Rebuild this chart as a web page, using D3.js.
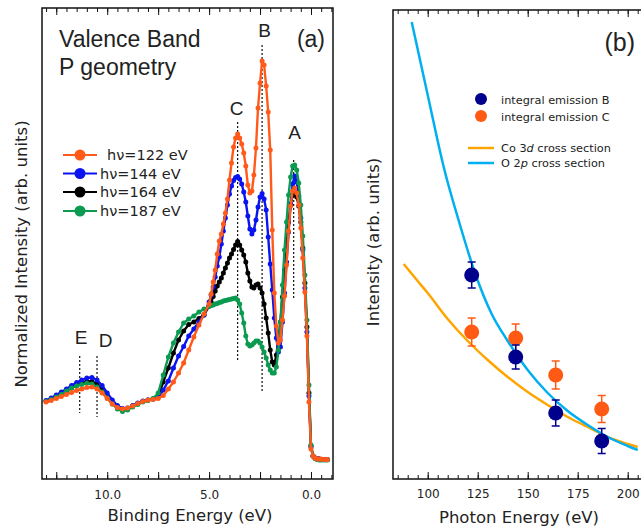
<!DOCTYPE html>
<html>
<head>
<meta charset="utf-8">
<script src="https://cdn.jsdelivr.net/npm/d3@7"></script>
<style>
  html, body { margin: 0; padding: 0; background: #fff; }
  svg { display: block; }
  text { font-family: "DejaVu Sans", sans-serif; fill: #222; }
  .big { font-family: "Liberation Sans", Arial, sans-serif; }
</style>
</head>
<body>
<svg id="chart" width="641" height="531"></svg>
<script>
// ---------------- DATA ----------------
// Panel (a): valence band spectra (binding energy in eV, intensity in arb. units)
const bindingEnergy = [13.0,12.75,12.5,12.25,12.0,11.75,11.5,11.25,11.0,10.75,10.5,10.25,10.0,9.75,9.5,9.25,9.0,8.75,8.5,8.25,8.0,7.75,7.5,7.25,7.0,6.75,6.5,6.25,6.0,5.75,5.5,5.25,5.0,
  4.9,4.8,4.7,4.6,4.5,4.4,4.3,4.2,4.1,4.0,3.9,3.8,3.7,3.6,3.5,3.4,3.3,3.2,3.1,3.0,2.9,2.8,2.7,2.6,2.5,2.4,2.3,2.2,2.1,2.0,1.9,1.8,1.7,1.6,1.5,1.4,1.3,1.2,1.1,1.0,0.9,0.8,0.7,0.6,0.5,0.4,0.3,0.2,0.1,0.0,-0.1,-0.2,-0.3,-0.4,-0.5,-0.6,-0.7,-0.8];

const hv122 = [77,78.5,80.5,82.5,84.5,86.5,88.5,90,91.5,92,90,86,80.5,75,71.5,70,71,73,75.5,77.5,79,79.5,80.5,83.5,90,97,106,116,129,142,154,165,175,
  185,197,209,225,238,245,255,266,280,299,316,332,341,345,341,335,326,313,294,286,288,304,331,371,396,418,414,393,367,329,249,186,153,136,139,159,183,214,248,273,288,291,286,274,251,221,187,143,77,30,23,21,20,20,20,19.5,19.5,19.5];

const hv144 = [78.5,81,84,87,90,93.5,96.5,99,101,101.5,99,93.5,86,79,73.5,70.5,71,73.5,76,78,79,80,81.5,89,98,111,123,132.5,143,150,157,164,177,
  184,192,202,213,222,235,248,261,274,285,293,298.5,301.5,302.5,300,295,287,277,263,250,245,249,259,272,282,285.5,280,269,242,215,189,161,141,127,132,157,186,217,247,275,295,303,297,283,261,229,191,147,83,32,23,21,20,20,19.5,19.5,19.5,19.5];

const hv164 = [78,80,82.5,85,88,91,93.5,96,97.5,97.5,95,90,83,76.5,71.5,69,70,73,75.5,77.5,79,80,83,97,111,126,139,148,154.5,157,160.5,164,173,
  177,182.5,188,193,197,201,206,211,216,221,225,229.5,234,237.5,234,229,224,217,206,198,192,191,194,195,191,186,175,161,146,129,117,114,124,138,157,182,209,234,257,274,284,287,282,273,257,231,196,152,86,33,23,21,20,20,19.5,19.5,19.5,19.5];

const hv187 = [77.5,79.5,82,84.5,88,91,93,94.5,95.7,95,92,87,81,75,70,67.5,69,72,74.5,77,78.5,80.5,86,104,122,136,147,156,160,163,167,170,172.5,
  173.5,174,175,175.5,176.5,177,178,178.5,179,179.5,180,180.5,181,179,175,166,156,143,135,133,134,136,138,138,136,132,127,121,114,109,106,106,112,129,157,194,229,257,284,302,313,314,309,296,274,243,204,159,94,34,23,20.5,19.5,19,19,19,19,19];

const seriesLabels = ["hν=122 eV", "hν=144 eV", "hν=164 eV", "hν=187 eV"];

// Peak markers (binding energy, dotted line extent in intensity units)
const peakLabels = ["A", "B", "C", "D", "E"];
const peakEnergy = [0.85, 2.4, 3.6, 10.5, 11.35];
const peakLineTop = [319, 434, 357, 123, 123];
const peakLineBottom = [181, 86, 119, 62, 66];

// Panel (b): integral emission vs photon energy
const photonEnergy = [122, 144, 164, 187];
const emissionB = [204, 122, 66, 38];
const emissionBErr = [13, 12, 13, 12.5];
const emissionC = [147, 141, 104, 70];
const emissionCErr = [14, 14, 14, 13.5];

// Cross sections (photon energy eV, arb. units)
const o2pEnergy = [92, 100, 108, 116, 124, 132, 140, 150, 160, 170, 180, 190, 200, 205];
const o2pSigma = [457, 384, 312, 255, 204, 165, 138, 109, 86, 68, 54, 42, 33, 29];
const co3dEnergy = [88, 95, 100, 110, 120, 130, 140, 150, 160, 170, 180, 190, 200, 205];
const co3dSigma = [215, 198, 186, 160, 138, 119, 102, 87, 74, 62, 52, 42, 35, 32];

// ---------------- DRAW ----------------
const svg = d3.select("#chart");
const cOrange = "#ff5a1a", cBlue = "#0a14f0", cBlack = "#000000", cGreen = "#0a9a50";
const seriesColors = [cOrange, cBlue, cBlack, cGreen];
const seriesData = [hv122, hv144, hv164, hv187];

// ---- Panel (a) ----
const A = {left: 42, right: 333, top: 8, bottom: 479};
const xa = d3.scaleLinear().domain([13.2, -1.08]).range([A.left, A.right]);
const ya = d3.scaleLinear().domain([0, 471]).range([A.bottom, A.top]);

const ga = svg.append("g");

function tickAxes(g, scale, yBottom, yTop, minorVals, majorVals, labelVals, fmt, pad) {
  const mk = (axisFn, y, vals, size) => g.append("g")
      .attr("transform", `translate(0,${y})`)
      .call(axisFn(scale).tickValues(vals).tickSizeInner(size).tickSizeOuter(0).tickFormat(""))
      .call(s => s.select(".domain").remove())
      .call(s => s.selectAll("line").attr("stroke", "#111").attr("stroke-width", 1));
  mk(d3.axisBottom, yBottom, minorVals, -4);
  mk(d3.axisBottom, yBottom, majorVals, -7);
  mk(d3.axisTop, yTop, minorVals, -4);
  mk(d3.axisTop, yTop, majorVals, -7);
  g.append("g")
    .attr("transform", `translate(0,${yBottom})`)
    .call(d3.axisBottom(scale).tickValues(labelVals).tickSize(0).tickPadding(pad).tickFormat(fmt))
    .call(s => s.select(".domain").remove())
    .call(s => s.selectAll("text").style("font-size", "12px").style("font-family", "DejaVu Sans").attr("fill", "#333"));
}

tickAxes(ga, xa, A.bottom, A.top,
  d3.range(26, -3, -1).map(d => d / 2),
  [12.5, 10, 7.5, 5, 2.5, 0],
  [10, 5, 0], d3.format(".1f"), 11.5);

// peak dotted lines
peakLabels.forEach((lab, i) => {
  ga.append("line")
    .attr("x1", xa(peakEnergy[i])).attr("x2", xa(peakEnergy[i]))
    .attr("y1", ya(peakLineTop[i])).attr("y2", ya(peakLineBottom[i]))
    .attr("stroke", "#111").attr("stroke-width", 1.2).attr("stroke-dasharray", "2,2");
});

// spectra: draw order black, blue, green, orange
const lineA = d3.line().x((d, i) => xa(bindingEnergy[i])).y(d => ya(d));
[2, 1, 3, 0].forEach(k => {
  const g = ga.append("g");
  g.append("path").datum(seriesData[k])
    .attr("d", lineA).attr("fill", "none")
    .attr("stroke", seriesColors[k]).attr("stroke-width", 2.4).attr("stroke-linejoin", "round");
  g.selectAll("circle").data(seriesData[k]).join("circle")
    .attr("cx", (d, i) => xa(bindingEnergy[i])).attr("cy", d => ya(d))
    .attr("r", 2.5).attr("fill", seriesColors[k]);
});

// frame
ga.append("rect").attr("x", A.left).attr("y", A.top)
  .attr("width", A.right - A.left).attr("height", A.bottom - A.top)
  .attr("fill", "none").attr("stroke", "#111").attr("stroke-width", 1.5);

// peak labels
const peakLabelPos = {A: [294.5, 139], B: [264.5, 37], C: [236.7, 115], D: [105.5, 347], E: [81, 344]};
peakLabels.forEach(lab => {
  ga.append("text").attr("class", "big").attr("x", peakLabelPos[lab][0]).attr("y", peakLabelPos[lab][1])
    .attr("text-anchor", "middle").style("font-size", "19px").text(lab);
});

// titles
ga.append("text").attr("class", "big").attr("x", 59).attr("y", 47).style("font-size", "23px").text("Valence Band");
ga.append("text").attr("class", "big").attr("x", 59).attr("y", 75).style("font-size", "23px").text("P geometry");
ga.append("text").attr("class", "big").attr("x", 325).attr("y", 47).attr("text-anchor", "end").style("font-size", "23px").text("(a)");

// legend (a)
const legY = [155, 173.5, 192, 211];
const legX = [107, 100, 100, 100];
seriesLabels.forEach((lab, i) => {
  ga.append("line").attr("x1", 63).attr("x2", 97).attr("y1", legY[i]).attr("y2", legY[i])
    .attr("stroke", seriesColors[i]).attr("stroke-width", 2);
  ga.append("circle").attr("cx", 80).attr("cy", legY[i]).attr("r", 5.5).attr("fill", seriesColors[i]);
  ga.append("text").attr("x", legX[i]).attr("y", legY[i] + 5).style("font-size", "14.5px").text(lab);
});

// axis titles (a)
ga.append("text").attr("x", 190).attr("y", 521).attr("text-anchor", "middle")
  .style("font-size", "16.5px").text("Binding Energy (eV)");
ga.append("text").attr("transform", "translate(27,254) rotate(-90)").attr("text-anchor", "middle")
  .style("font-size", "16.5px").text("Normalized Intensity (arb. units)");

// ---- Panel (b) ----
const B = {left: 393, right: 645, top: 10, bottom: 479};
const xb = d3.scaleLinear().domain([82.65, 206.65]).range([B.left, 641]);
const yb = d3.scaleLinear().domain([0, 469]).range([B.bottom, B.top]);
const gb = svg.append("g");

tickAxes(gb, xb, B.bottom, B.top,
  d3.range(85, 210, 5),
  [100, 125, 150, 175, 200],
  [100, 125, 150, 175, 200], d3.format("d"), 10);

const cCo = "#ffa500", cO = "#00aff0", cNavy = "#00008c", cPtC = "#ff5a14";
const lineB = (E) => d3.line().curve(d3.curveMonotoneX).x((d, i) => xb(E[i])).y(d => yb(d));
gb.append("path").datum(co3dSigma).attr("d", lineB(co3dEnergy))
  .attr("fill", "none").attr("stroke", cCo).attr("stroke-width", 2.5);
gb.append("path").datum(o2pSigma).attr("d", lineB(o2pEnergy))
  .attr("fill", "none").attr("stroke", cO).attr("stroke-width", 2.5);

function points(vals, errs, color) {
  const g = gb.append("g");
  vals.forEach((v, i) => {
    const x = xb(photonEnergy[i]);
    g.append("line").attr("x1", x).attr("x2", x).attr("y1", yb(v - errs[i])).attr("y2", yb(v + errs[i]))
      .attr("stroke", color).attr("stroke-width", 1.5);
    [v - errs[i], v + errs[i]].forEach(e => {
      g.append("line").attr("x1", x - 4).attr("x2", x + 4).attr("y1", yb(e)).attr("y2", yb(e))
        .attr("stroke", color).attr("stroke-width", 1.5);
    });
    g.append("circle").attr("cx", x).attr("cy", yb(v)).attr("r", 7.5).attr("fill", color);
  });
}
points(emissionC, emissionCErr, cPtC);
points(emissionB, emissionBErr, cNavy);

gb.append("rect").attr("x", B.left).attr("y", B.top)
  .attr("width", B.right - B.left).attr("height", B.bottom - B.top)
  .attr("fill", "none").attr("stroke", "#111").attr("stroke-width", 1.5);

gb.append("text").attr("class", "big").attr("x", 635).attr("y", 51).attr("text-anchor", "end").style("font-size", "25px").text("(b)");

// legend (b)
gb.append("circle").attr("cx", 481).attr("cy", 99).attr("r", 6).attr("fill", cNavy);
gb.append("text").attr("x", 501).attr("y", 103.5).style("font-size", "11.3px").text("integral emission B");
gb.append("circle").attr("cx", 481).attr("cy", 116).attr("r", 6).attr("fill", cPtC);
gb.append("text").attr("x", 501).attr("y", 120.5).style("font-size", "11.3px").text("integral emission C");

gb.append("line").attr("x1", 468).attr("x2", 494).attr("y1", 148).attr("y2", 148).attr("stroke", cCo).attr("stroke-width", 2.5);
const t1 = gb.append("text").attr("x", 501).attr("y", 152).style("font-size", "11.3px");
t1.append("tspan").text("Co 3");
t1.append("tspan").style("font-style", "italic").text("d");
t1.append("tspan").text(" cross section");
gb.append("line").attr("x1", 468).attr("x2", 494).attr("y1", 163).attr("y2", 163).attr("stroke", cO).attr("stroke-width", 2.5);
const t2 = gb.append("text").attr("x", 501).attr("y", 167).style("font-size", "11.3px");
t2.append("tspan").text("O 2");
t2.append("tspan").style("font-style", "italic").text("p");
t2.append("tspan").text(" cross section");

gb.append("text").attr("x", 519).attr("y", 523).attr("text-anchor", "middle")
  .style("font-size", "16.5px").text("Photon Energy (eV)");
gb.append("text").attr("transform", "translate(379,242) rotate(-90)").attr("text-anchor", "middle")
  .style("font-size", "16.5px").text("Intensity (arb. units)");
</script>
</body>
</html>
